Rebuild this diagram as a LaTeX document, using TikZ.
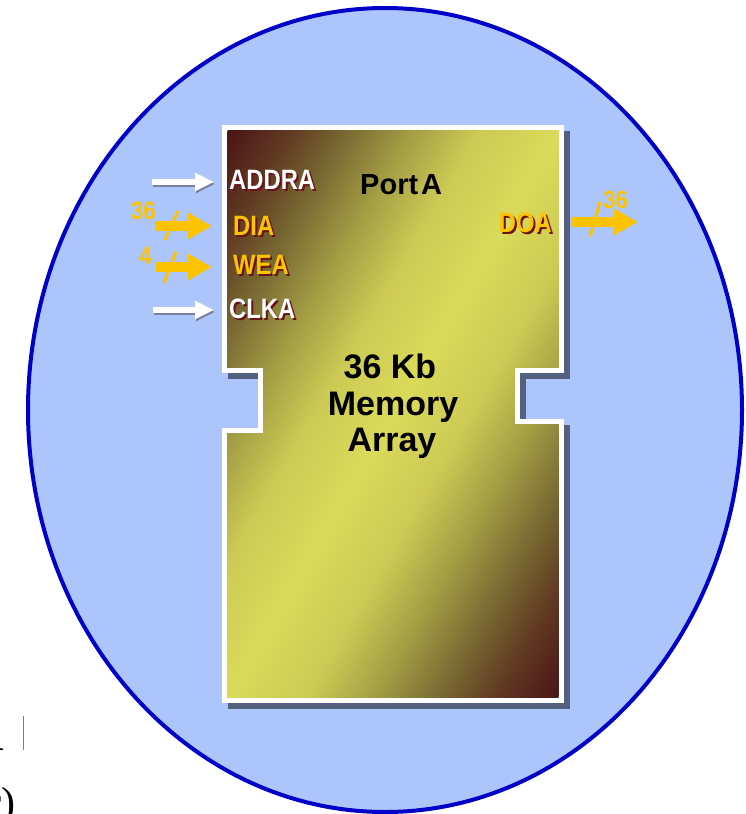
\documentclass[tikz,border=0pt]{standalone}
\usepackage{fontspec}
\setmainfont{Liberation Sans}
\newfontfamily\labfont{Liberation Sans}[FakeStretch=0.85]
\newfontfamily\numfont{Liberation Sans}[FakeStretch=0.9]
\newfontfamily\serf{Liberation Serif}
\usetikzlibrary{arrows.meta}
\definecolor{ellfill}{RGB}{172,198,252}
\definecolor{elldraw}{RGB}{0,0,200}
\definecolor{gold}{RGB}{252,196,0}
\definecolor{maroon}{RGB}{105,20,22}
\definecolor{shadowgray}{RGB}{84,96,128}
\definecolor{arrowshadow}{RGB}{120,130,160}
\definecolor{dk}{RGB}{74,20,22}
\definecolor{ga}{RGB}{98,60,35}
\definecolor{gb}{RGB}{120,105,50}
\definecolor{gc}{RGB}{164,158,68}
\definecolor{gd}{RGB}{204,202,84}
\definecolor{yl}{RGB}{218,218,90}
\pgfdeclarehorizontalshading{blockshade}{100bp}{color(0bp)=(dk); color(25bp)=(dk); color(30bp)=(ga); color(34bp)=(gb); color(39bp)=(gc); color(44bp)=(gd); color(50bp)=(yl); color(56bp)=(gd); color(61bp)=(gc); color(66bp)=(gb); color(70bp)=(ga); color(75bp)=(dk); color(100bp)=(dk)}
\newcommand\shtxt[3]{\rlap{\kern2pt\raisebox{-2pt}{\textcolor{#2}{#3}}}\textcolor{#1}{#3}}
\tikzset{
  blk/.style={insert path={(224.5,127.5) -- (561.5,127.5) -- (561.5,370) -- (517.5,370) -- (517.5,421) -- (561.5,421) -- (561.5,700.5) -- (224.5,700.5) -- (224.5,430) -- (260,430) -- (260,370) -- (224.5,370) -- cycle}},
  lab/.style={font=\labfont\bfseries\fontsize{28}{30}\selectfont, inner sep=0pt},
  memlab/.style={font=\bfseries\fontsize{34}{36}\selectfont, inner sep=0pt, text=black},
  numlab/.style={font=\numfont\bfseries\fontsize{25}{27}\selectfont, inner sep=0pt, text=gold},
  warrow/.style={draw=white, line width=6pt, -{Triangle[length=19pt,width=17pt]}},
  wshadow/.style={draw=arrowshadow, line width=6pt, -{Triangle[length=19pt,width=17pt]}, transform canvas={shift={(1pt,-2pt)}}},
  garrow/.style={draw=gold, line width=10pt, -{Triangle[length=24pt,width=25pt]}},
  slash/.style={draw=gold, line width=3pt},
  frag/.style={font=\serf, inner sep=0pt, text=black}
}
\begin{document}
\begin{tikzpicture}[x=1pt,y=-1pt]
\useasboundingbox[fill=white] (0,0) rectangle (746,814);
% ellipse background
\draw[draw=elldraw, fill=ellfill, line width=4pt] (385,410) ellipse [x radius=357, y radius=402];
% block shadow
\filldraw[fill=shadowgray, draw=shadowgray, line width=5pt, shift={(6,6)}, blk];
% block gradient
\begin{scope}
  \path[clip, blk];
  \begin{scope}[transform canvas={rotate around={-30.2:(393,413.5)}}]
    \shade[shading=blockshade] (108,13) rectangle (678,814);
  \end{scope}
\end{scope}
\draw[white, line width=5pt, blk];
% labels
\node[lab, anchor=base west] (addra) at (229,189) {\shtxt{white}{maroon}{ADDRA}};
\node[lab, anchor=base west] (dia) at (233,235) {\shtxt{gold}{maroon}{DIA}};
\node[lab, anchor=base west] (wea) at (233,274) {\shtxt{gold}{maroon}{WEA}};
\node[lab, anchor=base west] (clka) at (229,318) {\shtxt{white}{maroon}{CLKA}};
\node[lab, anchor=base east] (doa) at (552,232) {\shtxt{gold}{maroon}{DOA}};
\node[font=\bfseries\fontsize{29}{30}\selectfont, inner sep=0pt, anchor=base west] (port) at (360,194) {Port\kern3pt A};
\node[memlab, anchor=base] (m1) at (390,378) {36 Kb};
\node[memlab, anchor=base] (m2) at (393,415) {Memory};
\node[memlab, anchor=base] (m3) at (392,451) {Array};
% input arrows
\coordinate (inaddr) at (152,182);
\coordinate (india) at (155,226);
\coordinate (inwea) at (156,267);
\coordinate (inclk) at (153,310);
\coordinate (outdoa) at (638,222);
\draw[wshadow, shorten >=15pt] (inaddr) -- (inaddr -| addra.west);
\draw[warrow, shorten >=15pt] (inaddr) -- (inaddr -| addra.west);
\draw[wshadow, shorten >=15pt] (inclk) -- (inclk -| clka.west);
\draw[warrow, shorten >=15pt] (inclk) -- (inclk -| clka.west);
\draw[garrow, shorten >=21pt] (india) -- (india -| dia.west);
\draw[garrow, shorten >=21pt] (inwea) -- (inwea -| wea.west);
\draw[garrow, shorten <=19pt] (outdoa -| doa.east) -- (outdoa);
% bus slashes
\draw[slash] (165,240) -- (178,211);
\draw[slash] (164,283) -- (176,252);
\draw[slash] (590,237) -- (600,202);
% bus widths
\node[numlab, anchor=base east] (w1) at (156,219) {36};
\node[numlab, anchor=base east] (w2) at (152,264) {4};
\node[numlab, anchor=base west] (w3) at (603,208) {36};
% fragments at the left edge
\node[frag, font=\serf\fontsize{60}{60}\selectfont, anchor=base east] (f1) at (5,750) {n};
\node[frag, font=\serf\fontsize{42}{42}\selectfont, anchor=base east] (f2) at (16,816) {r)};
\draw[gray, line width=1pt] (23,716) -- (23,750);
\end{tikzpicture}
\end{document}
